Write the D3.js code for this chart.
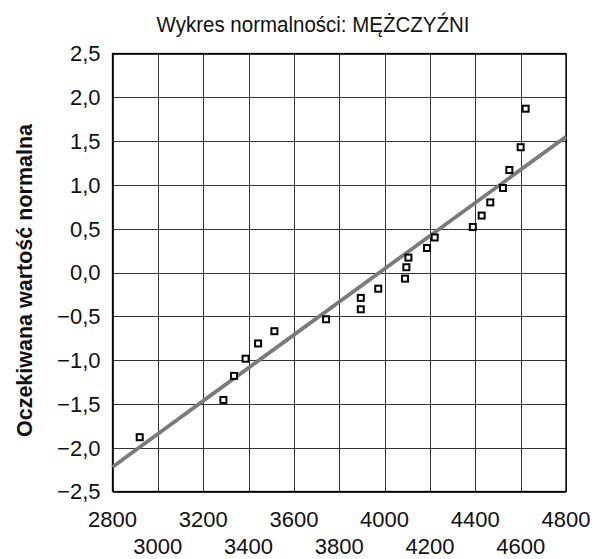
<!DOCTYPE html>
<html>
<head>
<meta charset="utf-8">
<script src="https://cdn.jsdelivr.net/npm/d3@7"></script>
<style>
  body { margin: 0; background: #fff; }
  svg { display: block; font-family: "Liberation Sans", Arial, sans-serif; }
</style>
</head>
<body>
<div id="chart"></div>
<script>
// dane: masa urodzeniowa (g) vs oczekiwana wartosc normalna
let masa = [2920, 3289, 3336, 3387, 3442, 3514, 3742, 3895, 3895, 3972, 4090, 4096, 4105,
  4187, 4221, 4389, 4428, 4466, 4522, 4550, 4600, 4622]
let oczekiwana = [-1.88, -1.455, -1.18, -0.984, -0.81, -0.67, -0.534, -0.42, -0.29, -0.185, -0.07, 0.06, 0.17,
  0.28, 0.40, 0.52, 0.65, 0.80, 0.965, 1.17, 1.43, 1.87]
let liniaX = [2800, 4800]
let liniaY = [-2.22, 1.55]
let xTicks = [2800, 3000, 3200, 3400, 3600, 3800, 4000, 4200, 4400, 4600, 4800]
let yTicks = [-2.5, -2, -1.5, -1, -0.5, 0, 0.5, 1, 1.5, 2, 2.5]
let tytul = "Wykres normalności: MĘŻCZYŹNI"
let tytulY = "Oczekiwana wartość normalna"

let w = 597
let h = 559
let mLeft = 112.5, mRight = 566, mTop = 53.5, mBottom = 491.5

let svg = d3.select("#chart").append("svg")
    .attr("width", w)
    .attr("height", h)

let x = d3.scaleLinear().domain([2800, 4800]).range([mLeft, mRight])
let y = d3.scaleLinear().domain([-2.5, 2.5]).range([mBottom, mTop])

let fmt = function (v) {
  return d3.format(".1f")(v).replace(".", ",").replace("-", "\u2212")
}

/* siatka */
svg.append("g")
    .attr("transform", "translate(0," + mBottom + ")")
    .call(d3.axisBottom(x).tickValues(xTicks).tickSize(-(mBottom - mTop)).tickFormat(""))
    .call(g => g.select(".domain").remove())
    .selectAll("line").attr("stroke", "#333").attr("shape-rendering", "crispEdges")

svg.append("g")
    .attr("transform", "translate(" + mLeft + ",0)")
    .call(d3.axisLeft(y).tickValues(yTicks).tickSize(-(mRight - mLeft)).tickFormat(""))
    .call(g => g.select(".domain").remove())
    .selectAll("line").attr("stroke", "#333").attr("shape-rendering", "crispEdges")

svg.append("rect")
    .attr("x", mLeft).attr("y", mTop)
    .attr("width", mRight - mLeft).attr("height", mBottom - mTop)
    .attr("fill", "none").attr("stroke", "#000").attr("stroke-width", 1.3)

/* etykiety osi y */
svg.selectAll(".ylab").data(yTicks).enter().append("text")
    .attr("x", mLeft - 12)
    .attr("y", d => y(d))
    .attr("dy", "0.36em")
    .attr("text-anchor", "end")
    .attr("font-size", 22)
    .attr("fill", "#111")
    .text(fmt)

/* etykiety osi x - dwa rzedy */
svg.selectAll(".xlab").data(xTicks).enter().append("text")
    .attr("x", d => x(d))
    .attr("y", (d, i) => i % 2 === 0 ? 527 : 554)
    .attr("text-anchor", "middle")
    .attr("font-size", 22)
    .attr("fill", "#111")
    .text(d => d)

svg.append("text")
    .attr("x", 313).attr("y", 31.5)
    .attr("text-anchor", "middle")
    .attr("font-size", 22)
    .attr("textLength", 313)
    .attr("lengthAdjust", "spacingAndGlyphs")
    .attr("fill", "#111")
    .text(tytul)

svg.append("text")
    .attr("transform", "translate(32," + ((mTop + mBottom) / 2 + 8) + ") rotate(-90)")
    .attr("text-anchor", "middle")
    .attr("font-size", 21.5)
    .attr("font-weight", "bold")
    .attr("fill", "#111")
    .text(tytulY)

/* linia dopasowania */
svg.append("line")
    .attr("x1", x(liniaX[0])).attr("y1", y(liniaY[0]))
    .attr("x2", x(liniaX[1])).attr("y2", y(liniaY[1]))
    .attr("stroke", "#7a7a7a").attr("stroke-width", 3.8)

/* punkty */
svg.selectAll(".pkt").data(masa).enter().append("rect")
    .attr("x", (d, i) => x(d) - 3)
    .attr("y", (d, i) => y(oczekiwana[i]) - 3)
    .attr("width", 6).attr("height", 6)
    .attr("fill", "#fff").attr("stroke", "#000").attr("stroke-width", 2)
</script>
</body>
</html>
